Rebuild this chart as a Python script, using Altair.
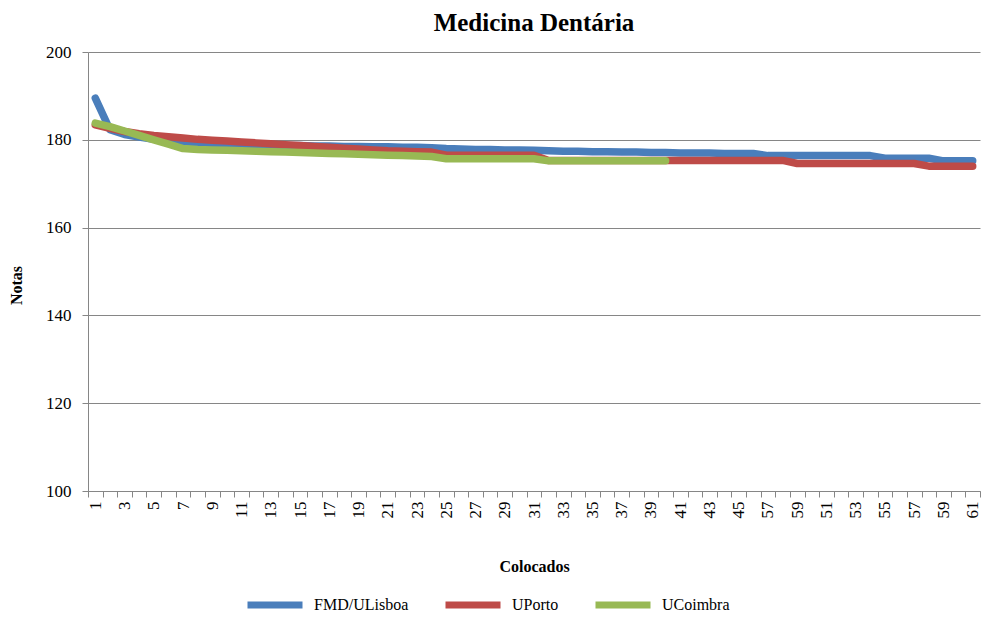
import altair as alt
import pandas as pd

positions = list(range(1, 62))
tick_labels = [str(i) for i in range(1, 47)] + ["57", "48", "59"] + [str(i) for i in range(50, 62)]

series_names = ["FMD/ULisboa", "UPorto", "UCoimbra"]
colors = ["#4A7EBB", "#BE4B48", "#98B954"]

fmd = [189.5, 182.3, 181.2, 180.6, 180.1, 179.7, 179.4, 179.2, 179.1, 179.0,
       178.9, 178.8, 178.8, 178.7, 178.7, 178.6, 178.6, 178.5, 178.5, 178.4,
       178.4, 178.3, 178.3, 178.2, 178.0, 177.9, 177.8, 177.8, 177.7, 177.7,
       177.6, 177.5, 177.4, 177.4, 177.3, 177.3, 177.2, 177.2, 177.1, 177.1,
       177.0, 177.0, 177.0, 176.9, 176.9, 176.9, 176.4, 176.4, 176.4, 176.4,
       176.4, 176.4, 176.4, 176.4, 175.8, 175.8, 175.8, 175.8, 175.2, 175.2,
       175.2]
uporto = [183.4, 182.6, 181.9, 181.4, 181.0, 180.7, 180.4, 180.1, 179.9, 179.7,
          179.5, 179.3, 179.1, 178.9, 178.7, 178.5, 178.3, 178.1, 177.9, 177.7,
          177.5, 177.4, 177.3, 177.2, 176.5, 176.5, 176.5, 176.5, 176.5, 176.5,
          176.5, 175.3, 175.3, 175.3, 175.3, 175.3, 175.3, 175.3, 175.3, 175.3,
          175.3, 175.3, 175.3, 175.3, 175.3, 175.3, 175.3, 175.3, 174.6, 174.6,
          174.6, 174.6, 174.6, 174.6, 174.6, 174.6, 174.6, 174.0, 174.0, 174.0,
          174.0]
ucoimbra = [183.8, 183.0, 182.0, 181.0, 180.0, 179.0, 178.0, 177.8, 177.7, 177.6,
            177.5, 177.4, 177.3, 177.2, 177.1, 177.0, 176.9, 176.8, 176.7, 176.6,
            176.5, 176.4, 176.3, 176.2, 175.7, 175.7, 175.7, 175.7, 175.7, 175.7,
            175.7, 175.2, 175.2, 175.2, 175.2, 175.2, 175.2, 175.2, 175.2, 175.2]

y_ticks = [100, 120, 140, 160, 180, 200]

rows = []
for name, vals in zip(series_names, [fmd, uporto, ucoimbra]):
    for i, v in enumerate(vals):
        rows.append({"pos": positions[i], "serie": name, "nota": v})
df = pd.DataFrame(rows)

label_js = "[" + ",".join(f"'{t}'" for t in tick_labels) + "]"
label_expr = f"datum.value % 2 == 1 ? {label_js}[datum.value - 1] : ''"

font = "Liberation Serif"
gray = "#868686"

chart = alt.Chart(df).mark_line(
    strokeWidth=7.5, strokeCap="round", strokeJoin="round"
).encode(
    x=alt.X(
        "pos:O",
        bandPosition=0.5,
        scale=alt.Scale(type="band", paddingInner=0, paddingOuter=0),
        axis=alt.Axis(
            title="Colocados", labelExpr=label_expr, labelAngle=270,
            tickBand="extent", labelOverlap=False, labelFont=font,
            labelFontSize=17, labelColor="black", labelPadding=4,
            tickColor=gray, tickSize=6, domainColor=gray,
            titleFont=font, titleFontSize=16, titleFontWeight="bold",
            titleColor="black", titleY=75, titleBaseline="middle",
        ),
    ),
    y=alt.Y(
        "nota:Q",
        scale=alt.Scale(domain=[100, 200], nice=False, zero=False),
        axis=alt.Axis(
            values=y_ticks, title="Notas", labelFont=font, labelFontSize=17,
            labelColor="black", labelPadding=11, tickColor=gray, tickSize=6,
            domainColor=gray, gridColor=gray, gridOpacity=1,
            titleFont=font, titleFontSize=16, titleFontWeight="bold",
            titleColor="black", titleX=-72, titleY=233, titleAngle=270,
            titleBaseline="middle", titleAlign="center",
        ),
    ),
    color=alt.Color(
        "serie:N",
        sort=series_names,
        scale=alt.Scale(domain=series_names, range=colors),
        legend=alt.Legend(
            title=None, orient="none", legendX=156, legendY=522,
            direction="horizontal", symbolType="stroke",
            symbolStrokeWidth=7, symbolSize=3025, labelFont=font,
            labelFontSize=16, labelColor="black", labelOffset=8,
            columnPadding=22,
        ),
    ),
).properties(
    width=892,
    height=439,
    autosize=alt.AutoSizeParams(type="none"),
    padding={"left": 80, "top": 44, "right": 2, "bottom": 123},
    title=alt.TitleParams(
        "Medicina Dentária", font=font, fontSize=25, fontWeight="bold",
        anchor="middle", frame="group", offset=7, color="black",
    ),
).configure_view(stroke=None)

chart.save("out.html", embed_options={"renderer": "svg", "actions": False})
